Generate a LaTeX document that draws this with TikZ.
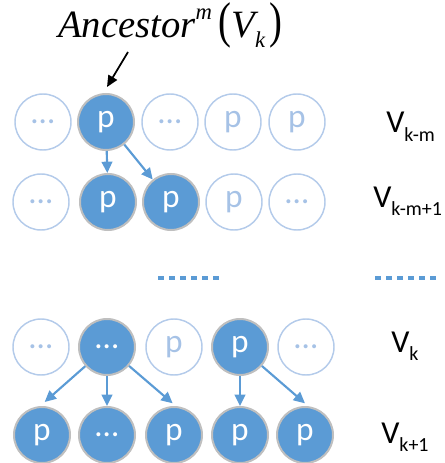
\documentclass[tikz,border=0pt]{standalone}
\usepackage{fontspec}
\setmainfont{Carlito}
\newfontfamily\titlefont{Liberation Serif}
\usetikzlibrary{arrows.meta}
\definecolor{fillblue}{HTML}{5B9BD5}
\definecolor{rimgray}{HTML}{BFBFBF}
\definecolor{lightblue}{HTML}{B4CBEA}
\definecolor{lighttext}{HTML}{A6C2E6}
\begin{document}
\begin{tikzpicture}[x=0.75pt,y=-0.75pt,
  full/.style={circle,minimum size=42pt,inner sep=0pt,fill=fillblue,draw=rimgray,line width=1.5pt,text=white,font=\fontsize{25}{25}\selectfont},
  faint/.style={circle,minimum size=42pt,inner sep=0pt,draw=lightblue,line width=1.1pt,text=lighttext,font=\fontsize{25}{25}\selectfont},
  link/.style={draw=fillblue,line width=1.6pt,-{Triangle[length=8.5pt,width=8pt]}},
  lbl/.style={anchor=base west,inner sep=0pt,font=\fontsize{24}{24}\selectfont},
  dots/.style={draw=fillblue,line width=3.7pt,dash pattern=on 4.3pt off 4pt}]
\useasboundingbox (0,0) rectangle (445,463);
% title
\node[anchor=base west,inner sep=0pt] (title) at (58,38) {\titlefont\fontsize{29}{29}\selectfont\itshape Ancestor\raisebox{1.05ex}{\fontsize{17}{17}\selectfont m}\hspace{5pt}{\upshape\scalebox{1}[1.3]{(}}V\raisebox{-0.55ex}{\fontsize{17}{17}\selectfont k}\hspace{3pt}{\upshape\scalebox{1}[1.3]{)}}};
\coordinate (ts) at (128,52);
\coordinate (te) at (107,87);
\draw[line width=1.3pt,-{Triangle[length=8.5pt,width=7.5pt]}] (ts) -- (te);
% row 1
\node[faint] (a1) at (43,122) {…};
\node[full]  (a2) at (106,122) {p};
\node[faint] (a3) at (170,122) {…};
\node[faint] (a4) at (233,122) {p};
\node[faint] (a5) at (297,122) {p};
% row 2
\node[faint] (b1) at (41,202) {…};
\node[full]  (b2) at (108,202) {p};
\node[full]  (b3) at (171,202) {p};
\node[faint] (b4) at (234,202) {p};
\node[faint] (b5) at (297,202) {…};
% row 3
\node[faint] (c1) at (41,347) {…};
\node[full]  (c2) at (107,347) {…};
\node[faint] (c3) at (174,347) {p};
\node[full]  (c4) at (240,347) {p};
\node[faint] (c5) at (306,347) {…};
% row 4
\node[full] (d1) at (42,435) {p};
\node[full] (d2) at (107,435) {…};
\node[full] (d3) at (174,435) {p};
\node[full] (d4) at (240,435) {p};
\node[full] (d5) at (305,435) {p};
% arrows
\draw[link] (a2) -- (b2);
\draw[link] (a2) -- (b3);
\draw[link] (c2) -- ([xshift=2pt,yshift=3pt]d1.north);
\draw[link] (c2) -- (d2);
\draw[link] (c2) -- ([xshift=-1pt,yshift=2pt]d3.north);
\draw[link] (c4) -- (d4);
\draw[link] (c4) -- ([yshift=2pt]d5.north);
% dotted separators
\coordinate (m1) at (158,278);
\coordinate (m2) at (220,278);
\coordinate (n1) at (375,278);
\coordinate (n2) at (437,278);
\draw[dots] (m1) -- (m2);
\draw[dots] (n1) -- (n2);
% level labels
\node[lbl] (l1) at (386,133) {V\raisebox{-0.55ex}{\fontsize{15}{15}\selectfont k-m}};
\node[lbl] (l2) at (373,207) {V\raisebox{-0.55ex}{\fontsize{15}{15}\selectfont k-m+1}};
\node[lbl] (l3) at (391,352) {V\raisebox{-0.55ex}{\fontsize{15}{15}\selectfont k}};
\node[lbl] (l4) at (381,443) {V\raisebox{-0.55ex}{\fontsize{15}{15}\selectfont k+1}};
\end{tikzpicture}
\end{document}
